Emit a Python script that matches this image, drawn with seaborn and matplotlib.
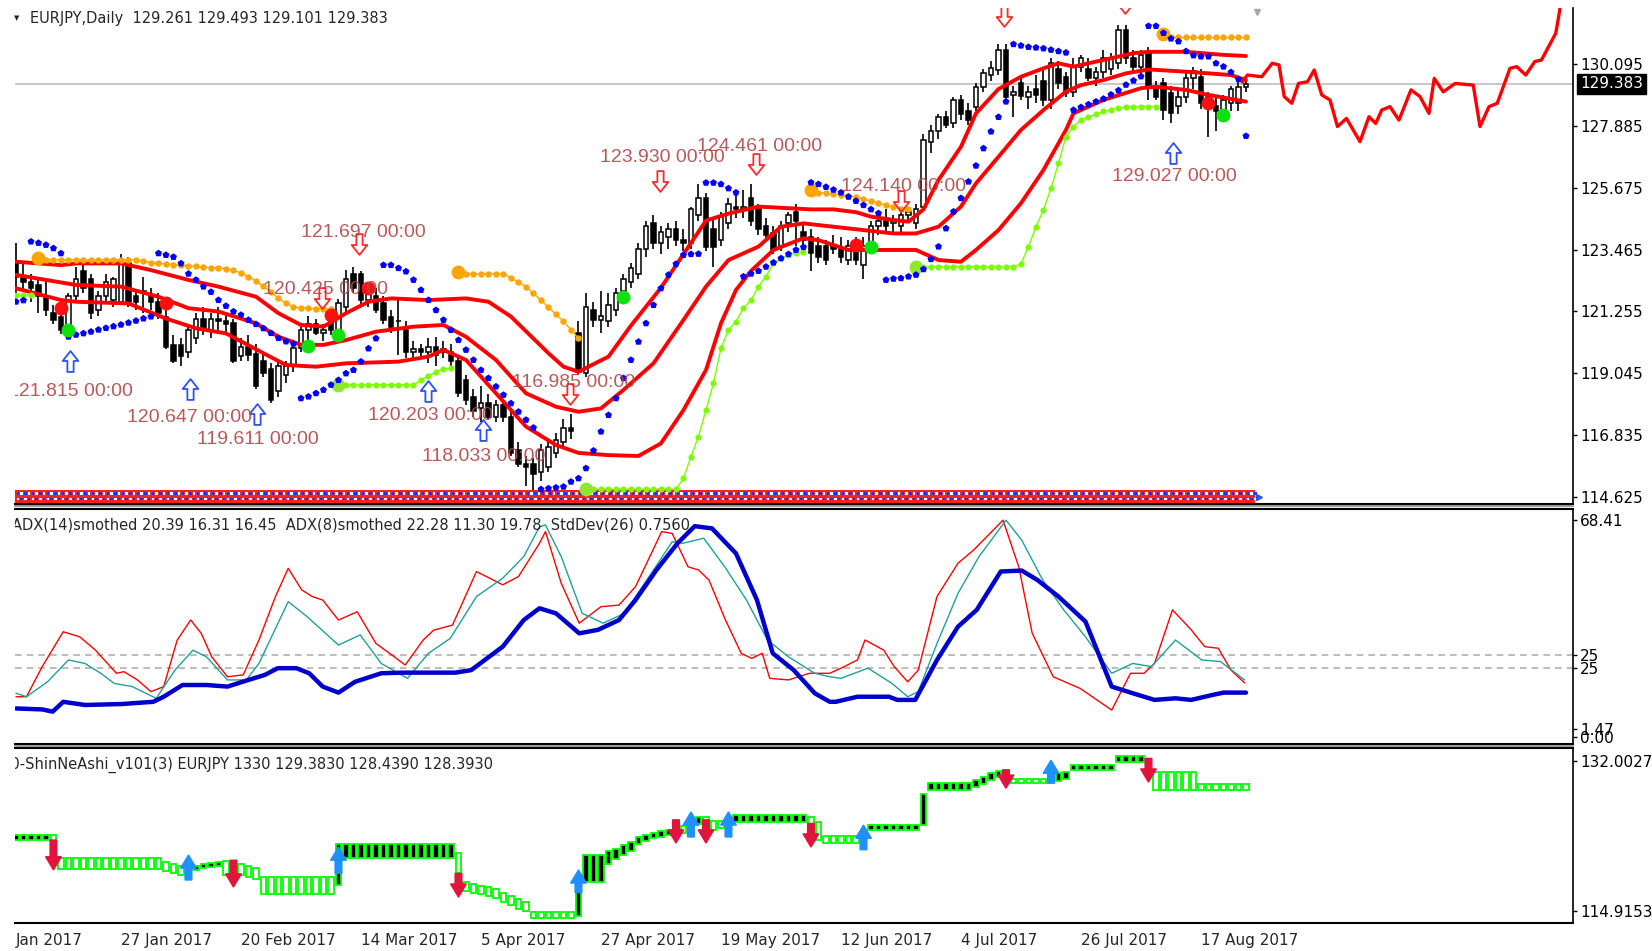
import numpy as np
import pandas as pd
import matplotlib
matplotlib.use("Agg")
import matplotlib.pyplot as plt
from matplotlib.path import Path
from matplotlib.lines import Line2D
import seaborn as sns

sns.set_style("white")
plt.rcParams["font.family"] = ["DejaVu Sans"]

# ---------------------------------------------------------------- data
symbol_header = "EURJPY,Daily  129.261 129.493 129.101 129.383"
adx_header = "ADX(14)smothed 20.39 16.31 16.45  ADX(8)smothed 22.28 11.30 19.78  StdDev(26) 0.7560"
shin_header = "00-ShinNeAshi_v101(3) EURJPY 1330 129.3830 128.4390 128.3930"
last_price = 129.383

dates = pd.bdate_range("2017-01-09", "2017-08-25")

opens = [123.0,122.5,122.3,122.2,121.8,121.2,121.05,120.5,121.8,122.7,
         122.4,121.3,121.8,121.65,121.6,123.0,121.8,122.0,121.8,121.6,
         121.05,120.05,120.05,119.8,120.3,121.0,120.6,121.0,120.9,120.85,
         119.65,120.0,119.75,119.5,119.2,118.4,119.0,119.3,119.95,120.6,
         120.8,120.5,121.0,120.5,121.4,122.6,122.6,121.65,121.8,121.55,
         121.05,120.9,120.6,119.8,119.9,119.8,120.0,119.9,119.8,119.5,
         118.8,118.2,117.8,118.0,117.5,117.9,117.5,116.3,115.8,115.8,
         115.5,115.7,116.2,116.6,117.1,120.5,119.05,121.3,120.95,120.9,
         121.3,122.0,122.3,122.6,123.5,124.4,123.7,123.9,124.2,123.8,
         123.7,124.7,125.3,124.2,123.8,124.4,125.0,124.9,125.3,124.9,
         124.3,124.05,123.6,124.4,124.8,124.1,123.9,123.6,123.6,123.6,
         123.5,123.1,123.6,122.9,123.7,124.3,124.6,124.4,124.3,124.7,
         124.4,125.0,127.3,127.7,128.2,127.97,128.8,128.4,128.57,129.28,
         129.7,129.88,130.6,129.0,129.4,128.9,129.2,129.5,128.8,129.9,
         129.64,129.1,130.0,129.9,129.6,129.8,129.9,130.12,131.3,130.3,
         130.0,130.5,129.3,129.4,129.05,128.6,128.9,129.6,129.64,128.9,
         128.6,128.4,128.7,128.7,129.261]
highs = [123.7,123.0,122.6,122.4,122.4,121.5,121.4,121.9,122.85,122.9,
         122.6,122.0,122.6,122.5,123.3,123.2,122.0,122.5,122.1,121.9,
         121.3,120.4,120.3,120.8,121.2,121.4,121.2,121.4,121.2,121.0,
         120.3,120.4,120.1,119.8,119.4,119.5,119.5,120.05,120.7,121.1,
         121.0,120.8,121.3,121.7,122.73,122.85,122.7,122.3,122.1,121.8,
         121.3,121.7,120.9,120.2,120.1,120.3,120.35,120.2,120.1,119.7,
         119.0,118.5,118.6,118.3,118.1,118.1,117.7,116.6,116.1,116.0,
         116.5,116.6,116.9,117.4,117.6,120.9,121.9,121.6,122.0,121.9,
         122.1,122.6,123.0,123.7,124.5,124.7,124.3,124.4,124.5,124.2,
         125.0,125.8,125.5,124.6,124.8,125.3,125.4,125.6,125.8,125.1,
         124.6,124.3,124.5,124.8,125.1,124.4,124.2,123.9,123.8,124.0,
         123.9,123.8,123.9,123.9,124.5,124.7,124.9,124.7,124.9,125.0,
         125.1,127.6,127.9,128.3,128.4,128.9,129.0,128.7,129.4,129.9,
         130.2,130.8,130.8,129.3,129.6,129.3,129.7,129.9,130.3,130.2,
         129.8,130.3,130.4,130.3,130.0,130.6,130.5,131.5,131.5,130.6,
         130.6,130.7,129.5,129.6,129.3,129.2,129.8,130.0,129.9,129.1,
         128.9,129.0,129.3,129.5,129.493]
lows = [121.8,121.95,121.6,121.2,121.1,120.8,120.45,120.4,121.6,121.9,
        121.0,121.1,121.6,121.4,121.5,121.4,121.3,121.2,121.3,121.0,
        119.9,119.4,119.3,119.6,120.1,120.4,120.3,120.6,120.4,119.4,
        119.5,119.5,118.5,118.9,118.0,118.2,118.7,119.1,119.8,120.0,
        120.4,120.2,120.4,120.3,121.2,121.9,121.5,121.4,121.2,120.8,
        120.5,119.7,119.6,119.5,119.6,119.4,119.3,119.6,119.3,118.2,
        117.9,117.5,117.3,117.4,117.3,117.3,116.1,115.7,115.0,114.8,
        115.2,115.5,116.0,116.4,116.7,119.0,118.9,120.7,120.5,120.7,
        121.1,121.8,122.1,122.4,123.2,123.5,123.3,123.5,123.6,123.4,
        123.5,124.5,123.4,122.85,123.6,124.2,124.6,124.6,124.3,124.0,
        123.8,123.3,123.4,124.1,123.6,123.6,122.7,123.0,122.9,123.3,
        123.0,122.9,122.9,122.4,123.5,124.0,124.1,124.0,124.0,124.4,
        124.2,124.9,126.9,127.4,127.8,127.8,128.1,127.9,128.4,129.1,
        129.5,129.7,128.8,128.2,128.8,128.5,128.7,128.6,128.5,129.2,
        128.9,128.9,129.8,129.5,129.3,129.6,129.7,129.9,130.1,129.8,
        129.7,128.8,128.8,128.1,127.97,128.3,128.7,129.2,128.5,127.5,
        127.7,128.1,128.4,128.4,129.101]
closes = [122.5,122.3,122.1,121.8,121.3,120.95,120.6,121.8,122.4,122.1,
          121.2,121.8,122.3,122.4,123.1,121.6,121.6,121.95,121.6,121.2,
          120.0,119.5,119.65,120.6,121.0,120.6,121.0,120.9,120.8,119.5,
          120.0,119.7,118.6,119.05,118.1,119.3,119.3,119.95,120.6,120.8,
          120.5,120.6,120.6,121.55,122.4,122.1,121.65,122.1,121.3,120.95,
          120.7,120.9,119.8,119.9,119.8,120.0,119.7,119.8,119.5,118.35,
          118.1,117.7,118.0,117.5,117.9,117.5,116.2,115.8,115.7,115.45,
          116.3,116.4,116.65,117.1,116.98,119.1,121.4,120.95,121.1,121.5,
          121.9,122.4,122.8,123.5,124.3,123.7,124.1,124.2,123.8,123.7,
          124.9,125.3,123.55,123.55,124.65,125.1,124.9,125.0,124.5,124.2,
          124.0,123.45,124.3,124.7,124.5,123.8,123.35,123.2,123.1,123.5,
          123.2,123.6,123.1,123.6,124.3,124.5,124.3,124.5,124.7,124.8,
          124.9,127.38,127.7,128.2,127.9,128.8,128.3,128.1,129.28,129.76,
          129.95,130.6,128.93,129.1,128.95,129.1,129.0,128.8,130.12,129.4,
          129.05,130.0,130.3,129.6,129.8,130.3,130.3,131.3,130.3,130.0,
          130.4,129.3,128.9,128.45,128.33,128.9,129.6,129.85,128.69,128.6,
          128.4,128.8,129.2,129.26,129.383]

# parabolic SAR, one value per bar
sar = [121.6,121.65,
       123.75,123.7,123.63,123.51,123.33,
       120.35,120.42,120.47,120.53,120.6,120.66,120.72,120.78,120.85,120.92,121.0,121.07,
       123.33,123.27,123.2,122.97,122.6,122.38,122.14,121.95,121.66,121.45,121.25,121.13,
       120.95,120.8,120.65,120.48,120.3,120.18,120.1,
       118.15,118.21,118.33,118.45,118.63,118.8,119.04,119.16,119.46,119.93,120.29,
       122.91,122.91,122.8,122.68,122.38,122.02,121.66,121.3,120.95,120.59,120.23,119.88,
       119.52,119.16,118.87,118.57,118.27,117.97,117.67,117.38,117.1,
       114.9,114.93,114.96,114.99,115.17,115.29,115.65,116.28,116.96,117.55,118.15,118.87,
       119.52,120.17,120.83,121.48,122.08,122.56,122.95,123.27,123.3,123.31,
       125.85,125.85,125.8,125.65,125.5,
       122.5,122.6,122.7,122.85,123.0,123.15,123.3,123.45,123.55,
       125.86,125.8,125.7,125.6,125.5,125.35,125.2,125.05,124.9,124.76,
       122.38,122.42,122.44,122.5,122.56,122.76,123.12,123.57,124.22,124.82,125.3,125.89,
       126.46,127.08,127.68,128.2,128.75,
       130.8,130.75,130.7,130.68,130.65,130.6,130.55,130.5,
       128.45,128.55,128.65,128.75,128.85,129.0,129.15,129.35,129.5,129.65,
       131.45,131.45,131.2,131.0,130.9,130.55,130.4,130.36,130.36,130.12,130.0,129.8,129.55,
       127.52]

# three red bands (bar number, price)
upper_bar = [5,11,13,19,23,28,32,37,40,43,46,49,52,55,60,65,68,71,76,78,80,84,87,91,94,97,100,
             104,111,114,117,119,122,124,126,128,131,133,136,139,142,144,146,150,154,156,161,166,169]
upper_val = [123.03,122.91,122.97,122.97,122.73,122.38,122.14,121.78,121.19,120.77,120.71,121.19,
             121.6,121.72,121.66,121.72,121.6,121.07,119.76,119.28,119.1,119.64,120.75,122.1,123.3,
             124.5,124.75,125.0,124.9,124.9,124.8,124.64,124.52,124.46,124.9,125.95,127.14,128.33,
             129.2,129.64,129.94,130.12,130.0,130.24,130.48,130.53,130.53,130.42,130.38]
middle_bar = [5,9,13,19,24,28,32,37,40,43,46,49,53,58,62,65,69,73,77,80,83,86,90,94,97,100,104,
              107,110,114,118,122,125,128,131,133,136,139,142,145,147,150,153,156,161,167,169]
middle_val = [122.56,122.38,122.2,122.14,121.78,121.37,121.25,120.83,120.35,120.06,120.06,120.23,
              120.53,120.71,120.77,120.35,119.52,118.33,117.85,117.67,117.79,118.45,119.4,120.95,
              122.14,123.09,123.57,124.28,124.4,124.28,124.16,124.04,124.04,124.28,125.0,125.83,
              126.78,127.74,128.45,129.11,129.34,129.52,129.76,129.9,129.82,129.7,129.52]
lower_bar = [5,11,13,20,25,29,33,38,41,45,49,56,60,62,65,69,73,77,80,84,88,91,94,97,99,101,103,
             106,110,112,116,122,125,128,131,133,136,139,142,145,146,150,155,157,161,164,169]
lower_val = [122.08,121.66,121.6,121.54,121.0,120.65,120.47,119.76,119.34,119.28,119.4,119.46,
             119.64,119.88,119.52,118.33,117.14,116.48,116.2,116.12,116.09,116.54,117.73,119.16,
             120.83,122.02,122.7,123.45,123.87,123.8,123.45,123.45,123.45,123.09,123.03,123.45,
             124.16,125.12,126.31,127.74,128.33,128.81,129.23,129.28,129.17,128.99,128.75]

# projection line to the right of the last bar (bar number, price)
proj_bar = [168.5,169.2,171.1,172.5,173.4,174.1,175.1,176.0,177.2,178.1,179.1,180.2,181.2,182.4,
            184.2,185.4,186.3,187.1,188.2,189.4,191.0,192.2,193.4,194.1,195.3,196.9,199.3,200.2,
            201.4,202.5,204.2,205.1,206.3,207.5,208.4,210.3,210.8,211.0]
proj_val = [129.45,129.7,129.64,130.12,130.06,128.93,128.69,129.4,129.46,129.88,128.99,128.81,
            127.86,128.15,127.32,128.21,127.97,128.45,128.57,128.09,129.17,128.93,128.33,129.58,
            129.1,129.4,129.34,127.86,128.57,128.69,129.94,130.0,129.7,130.18,130.24,131.19,
            131.96,132.4]

# dotted resistance (orange) and support (lime) levels: (start date, values per bar)
orange_levels = [
    ("2017-01-12", [123.1,123.1,123.1,123.1,123.1,123.1,123.1,123.1,123.1,123.1,123.1,123.1,123.1,
                    123.1,123.05,123.0,122.97,122.95,122.93,122.9,122.88,122.86,122.84,122.82,
                    122.8,122.78,122.72,122.63,122.5,122.35,122.15,121.95,121.72,121.55,121.42,
                    121.38,121.36,121.35,121.35,121.35]),
    ("2017-03-31", [122.6,122.6,122.6,122.6,122.6,122.6,122.6,122.45,122.3,122.14,121.9,121.65,
                    121.4,121.15,120.9,120.6,120.29]),
    ("2017-06-06", [125.53,125.5,125.48,125.45,125.42,125.38,125.33,125.27,125.2,125.12,125.05,
                    124.98,124.93,124.9]),
    ("2017-08-10", [131.07,131.07,131.07,131.07,131.07,131.07,131.07,131.07,131.07,131.07,131.07,
                    131.07]),
]
lime_levels = [
    ("2017-01-09", [121.84,121.84,121.84]),
    ("2017-03-09", [118.63,118.63,118.63,118.63,118.63,118.63,118.63,118.63,118.63,118.63,118.63,
                    118.8,118.95,119.1,119.2,119.22]),
    ("2017-04-25", [114.9,114.9,114.9,114.9,114.9,114.9,114.9,114.9,114.9,114.9,114.9,114.9,114.9,
                    115.29,116.07,116.78,117.73,118.69,119.94,120.59,120.89,121.37,121.66,122.14,
                    122.5,122.97,123.15,123.27,123.35,123.39]),
    ("2017-06-26", [122.85,122.85,122.85,122.85,122.85,122.85,122.85,122.85,122.85,122.85,122.85,
                    122.85,122.85,122.85,122.95,123.57,124.28,124.88,125.65,126.55,127.5,127.86,
                    128.09,128.2,128.3,128.4,128.45,128.52,128.55,128.57,128.57,128.57,128.57]),
]
sell_dot_dates = ["2017-01-17","2017-02-06","2017-03-08","2017-03-15","2017-06-14","2017-08-18"]
sell_dot_price = [121.37,121.54,121.13,122.08,123.63,128.69]
buy_dot_dates = ["2017-01-18","2017-03-03","2017-03-09","2017-05-02","2017-06-16","2017-08-22"]
buy_dot_price = [120.59,120.02,120.41,121.78,123.57,128.27]

# price labels (text, bar number, price) and hollow arrows (bar number, price)
price_labels = [("121.815 00:00",12.3,118.41),("120.647 00:00",28.2,117.48),
                ("119.611 00:00",37.3,116.69),("121.697 00:00",51.3,124.06),
                ("120.425 00:00",46.3,122.03),("120.203 00:00",60.3,117.55),
                ("118.033 00:00",67.3,116.08),("116.985 00:00",79.4,118.72),
                ("123.930 00:00",91.2,126.74),("124.461 00:00",104.1,127.15),
                ("124.140 00:00",123.3,125.72),("129.027 00:00",159.4,126.06)]
up_arrow_bar = [12.2,28.2,37.1,59.9,67.3,159.3]
up_arrow_price = [119.48,118.48,117.59,118.41,117.02,126.92]
down_arrow_bar = [50.7,45.8,78.9,90.9,103.7,123.0,136.7,152.9]
down_arrow_price = [123.66,121.73,118.3,125.9,126.52,125.2,131.81,132.27]

# ADX window (bar number, value)
adx_blue_bar = [5,8.5,9.9,11.3,14.2,19.1,23.3,24.7,27.2,30.4,33.2,36,38.2,39.9,42.4,44.1,45.9,48,
                50.2,53.7,56.5,63.6,65.7,69.9,72.7,74.8,77,80.1,82.6,85.4,87.6,90.4,93.2,95.5,97.8,
                101,103.8,105.9,108.7,111.5,113.5,114.3,117.2,121.4,122.5,124.9,127.8,130.6,133.1,
                136.3,139.1,141.2,144,147.6,151.1,153.9,156.8,159.6,161.7,164.6,166,169]
adx_blue_val = [9.0,8.7,8.0,11.1,10.1,10.4,11.1,12.7,16.4,16.4,15.9,18.0,19.6,21.7,21.7,20.1,15.9,
                14.0,17.4,20.1,20.3,20.3,21.1,28.5,36.9,40.6,39.0,32.7,33.8,36.9,43.2,52.7,61.1,
                66.5,65.8,57.9,43.2,26.4,21.1,13.8,11.1,11.1,12.7,12.7,11.7,11.7,24.3,34.8,40.1,
                52.2,52.5,49.5,44.3,36.4,15.9,13.8,11.7,12.2,11.7,13.3,14.0,14.0]
adx_red_bar = [5,6.4,8.5,11.3,13.5,15.6,18.4,19.4,21.2,23,24.7,26.5,28.3,29.7,31.1,33.2,35.3,37.4,
               39.6,41.3,43.1,44.5,45.9,48,50.5,53,55.1,56.9,59.3,60.7,63.2,66.4,69.9,72,74.8,
               75.6,77.7,80.1,83,85.4,87.6,91.1,92.5,94.6,96,97.4,99.6,101.7,103.1,104.5,105.5,
               108,110.8,113.5,115,117.2,118.2,120.7,122.1,123.9,125.3,127.8,130.6,132.7,136.6,
               138.7,140.5,143.3,146.9,151.1,153.6,155.4,156.8,159.2,161.7,163.5,165.3,167,168.8]
adx_red_val = [12.7,12.7,22.2,33.2,31.6,27.4,20.1,20.6,18.0,14.3,15.9,30.6,36.9,32.7,25.3,19.0,
               19.6,30.6,44.3,53.2,46.4,44.3,43.2,36.9,39.5,29.5,25.9,22.7,30.6,33.7,35.3,52.2,
               48.0,50.6,61.1,64.8,48.5,35.9,41.1,41.6,47.4,64.8,64.2,53.7,52.7,49.5,36.9,26.4,
               24.8,26.4,18.5,18.0,20.1,20.1,21.7,24.3,30.6,27.4,22.2,17.4,21.1,44.3,54.8,59.0,
               68.4,53.7,32.7,19.0,15.3,8.5,20.1,20.1,23.2,40.1,33.8,28.5,28.0,21.1,17.1]
adx_teal_bar = [5,6.4,9.2,12,14.2,16.3,18.1,20.5,23.7,26.2,28.6,30.4,33.2,35.7,37.4,41.3,43.8,48,
                50.9,53.7,57.2,60,62.9,66.4,69.9,72.7,74.8,75.6,77.7,80.5,83.3,86.1,89.7,92.5,
                93.9,96.7,99.5,102.4,105.2,108,111.5,113.5,115,118.6,121.8,123.9,125.3,127.8,
                130.6,133.4,137,139.1,141.9,144.7,147.6,151.1,153.9,156.4,159.6,163.1,165.6,168.8]
adx_teal_val = [13.8,12.7,17.4,24.3,23.2,20.1,16.9,15.9,12.2,21.1,27.4,25.3,18.0,18.0,23.2,42.7,
                38.0,29.0,32.2,23.2,18.5,26.4,31.1,44.3,50.1,56.9,66.3,66.9,56.9,39.0,35.9,39.0,
                51.6,61.6,61.1,62.7,53.7,43.2,30.6,25.3,20.1,19.0,18.5,21.7,16.9,12.7,14.3,29.5,
                45.3,56.9,68.4,62.1,49.5,40.1,31.6,20.1,23.2,22.2,30.6,24.3,23.8,18.0]

# ShinNeAshi window: box top, box bottom, bullish flag per bar
shin_top = [123.6,123.6,123.6,123.6,123.6,123.57,
            120.9,120.9,120.9,120.9,120.9,120.9,120.9,120.9,120.9,120.9,120.9,120.9,120.9,120.9,
            120.5,120.3,120.1,119.9,120.1,120.3,120.4,120.5,120.6,120.6,120.3,120.0,119.8,
            118.8,118.8,118.8,118.8,118.8,118.8,118.8,118.8,118.8,118.8,122.6,
            122.6,122.6,122.6,122.6,122.6,122.6,122.6,122.6,122.6,122.6,122.6,122.6,122.6,122.6,122.6,
            121.5,118.2,118.0,117.8,117.6,117.4,117.0,116.6,116.3,115.9,
            114.8,114.8,114.8,114.8,114.8,114.8,118.4,121.3,121.3,121.3,
            121.7,122.0,122.4,122.8,123.3,123.6,123.8,124.0,124.2,124.3,
            124.6,125.2,125.6,125.6,125.2,125.2,125.6,
            125.8,125.8,125.8,125.8,125.8,125.8,125.8,125.8,125.8,125.8,125.6,125.0,
            123.5,123.5,123.5,123.5,123.5,124.2,124.7,124.7,124.7,124.7,124.7,124.7,124.7,128.3,
            129.46,129.46,129.46,129.46,129.46,129.46,129.8,130.2,130.6,130.9,
            130.0,130.0,130.0,130.0,130.0,130.0,130.4,130.6,130.8,
            131.5,131.5,131.5,131.5,131.5,131.5,132.6,132.6,132.6,132.6,132.0,
            130.8,130.8,130.8,130.8,130.8,130.8,129.4,129.4,129.4,129.4,129.4,129.4,129.4]
shin_bot = [123.0,123.0,123.0,123.0,123.0,121.49,
            119.7,119.7,119.7,119.7,119.7,119.7,119.7,119.7,119.7,119.7,119.7,119.7,119.7,119.7,
            119.5,119.2,119.0,119.3,119.6,119.8,119.9,120.0,119.0,119.2,119.0,118.8,118.6,
            116.8,116.8,116.8,116.8,116.8,116.8,116.8,116.8,116.8,116.8,117.9,
            120.9,120.9,120.9,120.9,120.9,120.9,120.9,120.9,120.9,120.9,120.9,120.9,120.9,120.9,120.9,
            119.2,117.2,117.0,116.8,116.6,116.4,116.0,115.6,115.2,114.9,
            114.1,114.1,114.1,114.1,114.1,114.1,114.3,118.25,118.25,118.25,
            120.3,120.8,121.3,121.7,122.5,122.9,123.2,123.4,123.6,123.7,
            123.8,124.2,124.8,124.4,124.2,124.4,124.6,
            125.0,125.0,125.0,125.0,125.0,125.0,125.0,125.0,125.0,125.0,123.4,123.0,
            122.7,122.7,122.7,122.7,122.7,122.8,124.1,124.1,124.1,124.1,124.1,124.1,124.1,124.7,
            128.7,128.7,128.7,128.7,128.7,128.7,129.0,129.4,129.8,130.2,
            129.5,129.5,129.5,129.5,129.5,129.5,129.5,129.7,129.9,
            131.0,131.0,131.0,131.0,131.0,131.0,131.9,131.9,131.9,131.9,130.8,
            128.7,128.7,128.7,128.7,128.7,128.7,128.7,128.7,128.7,128.7,128.7,128.7,128.7]
shin_bull = [1,1,1,1,1,0,
             0,0,0,0,0,0,0,0,0,0,0,0,0,0,
             0,0,0,1,1,1,1,1,0,0,0,0,0,
             0,0,0,0,0,0,0,0,0,0,1,
             1,1,1,1,1,1,1,1,1,1,1,1,1,1,1,
             0,0,0,0,0,0,0,0,0,0,
             0,0,0,0,0,0,1,1,1,1,
             1,1,1,1,1,1,1,1,1,1,
             0,1,1,0,0,0,1,
             1,1,1,1,1,1,1,1,1,1,0,0,
             0,0,0,0,0,1,1,1,1,1,1,1,1,1,
             1,1,1,1,1,1,1,1,1,1,
             0,0,0,0,0,0,1,1,1,
             1,1,1,1,1,1,1,1,1,1,0,
             0,0,0,0,0,0,0,0,0,0,0,0,0]
# signal arrows in the ShinNeAshi window (bar number, tail, tip)
shin_sell = [(10,123.0,119.6),(34,120.7,117.65),(64,119.2,116.5),(93,125.3,122.66),
             (97,125.3,122.66),(111,124.9,122.2),(137,131.0,128.9),(156,132.3,129.6)]
shin_buy = [(28,118.45,121.3),(48,119.2,122.2),(80,117.0,119.6),(95,123.35,126.2),
            (100,123.35,126.2),(118,121.9,124.7),(143,129.5,132.1)]

price_ticks = [130.095,127.885,125.675,123.465,121.255,119.045,116.835,114.625]
date_ticks = ["2017-01-27","2017-02-20","2017-03-14","2017-04-05","2017-04-27",
              "2017-05-19","2017-06-12","2017-07-04","2017-07-26","2017-08-17"]

# ---------------------------------------------------------------- helpers
origin = np.datetime64("2017-01-02")
def bar_of(d):
    return np.busday_count(origin, np.array(pd.to_datetime(d).values, dtype="datetime64[D]"))

bars = bar_of(dates)
o, h, l, c = map(np.asarray, (opens, highs, lows, closes))

W, H = 1652, 951
fig = plt.figure(figsize=(W / 100, H / 100), dpi=100)
def rect(x0, y0, x1, y1):
    return [x0 / W, 1 - y1 / H, (x1 - x0) / W, (y1 - y0) / H]

ax = fig.add_axes(rect(15, 8, 1573, 504))
ax2 = fig.add_axes(rect(15, 509, 1573, 744))
ax3 = fig.add_axes(rect(15, 748, 1573, 923))
X0, X1 = 4.87, 212.6
for a in (ax, ax2, ax3):
    a.set_xlim(X0, X1)
    a.spines["left"].set_visible(False)
    a.spines["right"].set_color("black")
    a.spines["right"].set_linewidth(1.2)
    for s in ("top", "bottom"):
        a.spines[s].set_color("black")
        a.spines[s].set_linewidth(1.5)
    a.yaxis.tick_right()
    a.tick_params(axis="y", direction="out", length=3, width=1, pad=2,
                  labelsize=11, colors="black")
    a.set_xlabel(""); a.set_ylabel("")
ax.spines["top"].set_visible(False)
ax.set_ylim(114.374, 132.095)
ax2.set_ylim(-2.21, 71.92)
ax3.set_ylim(113.552, 133.483)
ax.tick_params(axis="x", bottom=False, labelbottom=False)
ax2.tick_params(axis="x", bottom=False, labelbottom=False)

# ---------------------------------------------------------------- main window
ax.axhline(last_price, color="#c4c4c4", lw=1.3, zorder=1)
up = c >= o
ax.vlines(bars, l, h, color="black", lw=1.2, zorder=2)
ax.bar(bars, np.maximum(np.abs(c - o), 0.03), bottom=np.minimum(o, c), width=0.64,
       color=np.where(up, "white", "black"), edgecolor="black", linewidth=1.1, zorder=3)

for bx, by in ((upper_bar, upper_val), (middle_bar, middle_val), (lower_bar, lower_val)):
    sns.lineplot(x=bx, y=by, ax=ax, color="#ff0000", lw=2.8, zorder=4, legend=False)
sns.lineplot(x=proj_bar, y=proj_val, ax=ax, color="#ff0000", lw=2.4, zorder=4, legend=False)

for start, vals in orange_levels:
    xs = bar_of([start])[0] + np.arange(len(vals))
    ax.plot(xs, vals, color="#ffa500", lw=1.0, marker="o", ms=3.6, zorder=5)
    ax.plot(xs[0], vals[0] + 0.08, "o", color="#ffa500", ms=9, zorder=5)
for k, (start, vals) in enumerate(lime_levels):
    xs = bar_of([start])[0] + np.arange(len(vals))
    ax.plot(xs, vals, color="#7cfc00", lw=1.0, marker="o", ms=3.4, zorder=5)
    if k > 0:
        ax.plot(xs[0], vals[0], "o", color="#8ee830", ms=9, zorder=5)

sns.scatterplot(x=bars, y=sar, ax=ax, marker="p", s=28, color="#0000ff",
                edgecolor="none", zorder=6, legend=False)
ax.plot(bar_of(sell_dot_dates), sell_dot_price, "o", color="#ff1010", ms=9, ls="none", zorder=6)
ax.plot(bar_of(buy_dot_dates), buy_dot_price, "o", color="#10e010", ms=9, ls="none", zorder=6)

# bottom checkered strip
strip = np.arange(bars[0], bars[-1] + 2)
ax.fill_between([X0, bars[-1] + 1.2], 114.42, 114.88, color="#ff2020", lw=0, zorder=3)
sx = np.repeat(strip, 2) + np.tile([-0.25, 0.25], len(strip))
c1 = np.tile(["#2030ff", "#ffffff"], len(strip))
c2 = np.tile(["#ffffff", "#2030ff"], len(strip))
ax.scatter(sx, np.full(len(sx), 114.55), marker="s", s=3.5, c=c1, linewidths=0, zorder=4)
ax.scatter(sx, np.full(len(sx), 114.74), marker="s", s=3.5, c=c2, linewidths=0, zorder=4)
ax.plot(bars[-1] + 1.8, 114.62, marker=">", color="#3050ff", ms=5, zorder=4)
ax.plot(bars[-1] + 1.5, 131.95, marker="v", color="#a8a8a8", ms=5, zorder=4)

up_path = Path([(-0.3, -1), (0.3, -1), (0.3, 0.05), (0.75, 0.05), (0, 1), (-0.75, 0.05),
                (-0.3, 0.05), (-0.3, -1)], closed=True)
down_path = Path([(x, -y) for x, y in up_path.vertices], closed=True)
ax.plot(up_arrow_bar, up_arrow_price, ls="none", marker=up_path, ms=15, mfc="none",
        mec="#2f4fff", mew=1.3, zorder=7)
ax.plot(down_arrow_bar, down_arrow_price, ls="none", marker=down_path, ms=15, mfc="none",
        mec="#ff2a2a", mew=1.3, zorder=7)
for txt, bx, py in price_labels:
    ax.text(bx, py, txt, ha="center", va="center", color="#b04848", fontsize=14,
            family="Liberation Sans", clip_on=True, zorder=8, alpha=0.9)

ax.set_yticks(price_ticks)
ax.set_yticklabels([f"{v:.3f}" for v in price_ticks])
ax.annotate(f"{last_price:.3f}", xy=(1.0, last_price), xycoords=("axes fraction", "data"),
            xytext=(5, 0), textcoords="offset points", ha="left", va="center",
            color="white", fontsize=11, annotation_clip=False,
            bbox=dict(boxstyle="square,pad=0.18", fc="black", ec="black"))

fig.text(17 / W, 1 - 18 / H, "\u25bc", fontsize=5, ha="center", va="center")
fig.text(30 / W, 1 - 18 / H, symbol_header, fontsize=10.5, ha="left", va="center")

# ---------------------------------------------------------------- ADX window
for lv in (25.9, 21.7):
    ax2.axhline(lv, color="#b0b0b0", lw=1.2, ls=(0, (4, 3)), zorder=1)
sns.lineplot(x=adx_red_bar, y=adx_red_val, ax=ax2, color="#ff0000", lw=1.0, legend=False, zorder=3)
sns.lineplot(x=adx_teal_bar, y=adx_teal_val, ax=ax2, color="#20a09a", lw=1.0, legend=False, zorder=3)
sns.lineplot(x=adx_blue_bar, y=adx_blue_val, ax=ax2, color="#0000cc", lw=3.2, legend=False, zorder=4)
ax2.set_yticks([68.45, 25.9, 21.7, 2.6, 0.0])
ax2.set_yticklabels(["68.41", "25", "25", "1.47", "0.00"])
ax2.text(-0.002, (744 - 525) / 235, adx_header, transform=ax2.transAxes, fontsize=10.5,
         ha="left", va="center", clip_on=True, zorder=5)

# ---------------------------------------------------------------- ShinNeAshi window
st, sb, sf = map(np.asarray, (shin_top, shin_bot, shin_bull))
ax3.bar(bars, st - sb, bottom=sb, width=0.72, color=np.where(sf == 1, "black", "white"),
        edgecolor="#00ff00", linewidth=1.3, zorder=2)
for bx, tail, tip in shin_sell:
    ax3.arrow(bx, tail, 0, tip - tail, width=0.9, head_width=2.1, head_length=1.5,
              length_includes_head=True, fc="#e0143c", ec="#e0143c", zorder=4)
for bx, tail, tip in shin_buy:
    ax3.arrow(bx, tail, 0, tip - tail, width=0.9, head_width=2.1, head_length=1.5,
              length_includes_head=True, fc="#1e90ff", ec="#1e90ff", zorder=4)
ax3.set_yticks([132.0027, 114.9153])
ax3.set_yticklabels(["132.0027", "114.9153"])
ax3.text((1 - 15) / 1558, (923 - 765) / 175, shin_header, transform=ax3.transAxes,
         fontsize=10.5, ha="left", va="center", clip_on=True, zorder=5)

td = pd.to_datetime(date_ticks)
ax3.set_xticks(bar_of(date_ticks))
ax3.set_xticklabels([f"{d.day} {d:%b %Y}" for d in td])
ax3.tick_params(axis="x", direction="out", length=4, width=1, pad=3, labelsize=11)
for t in ax3.get_xticklabels():
    t.set_ha("left")
fig.text(16 / W, 1 - 940 / H, "Jan 2017", fontsize=11, ha="left", va="center")

# panel separators (grey shadow lines)
for yy in (506, 746):
    fig.add_artist(Line2D([15 / W, 1573 / W], [1 - yy / H, 1 - yy / H], color="#9a9a9a", lw=1.5))

fig.savefig("out.png", dpi=100, facecolor="white")
